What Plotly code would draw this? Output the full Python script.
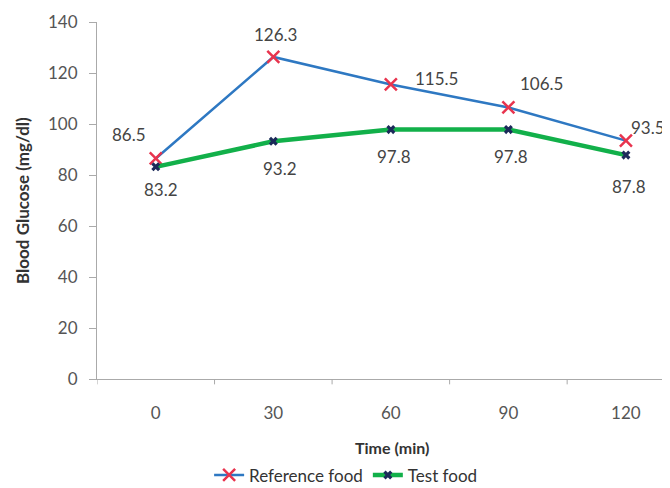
import plotly.graph_objects as go

times = ["0", "30", "60", "90", "120"]
reference_food = [86.5, 126.3, 115.5, 106.5, 93.5]
test_food = [83.2, 93.2, 97.8, 97.8, 87.8]
y_ticks = [0, 20, 40, 60, 80, 100, 120, 140]

xpos = list(range(len(times)))

FONT = "Lato, Open Sans, sans-serif"

fig = go.Figure()
fig.add_trace(go.Scatter(
    x=xpos, y=reference_food, name="Reference food", mode="lines+markers",
    line=dict(color="#2e78c2", width=2.5),
    marker=dict(symbol="x-thin", size=12, color="#e8344e",
                line=dict(color="#e8344e", width=2.5)),
))
fig.add_trace(go.Scatter(
    x=xpos, y=test_food, name="Test food", mode="lines+markers",
    line=dict(color="#12b04a", width=4.5),
    marker=dict(symbol="x", size=8, color="#1c2a5a"),
))

ref_shift = [(-27, 24), (2, 22), (46, 6), (33, 24), (3, 13)]
ref_anchor = ["center", "center", "center", "center", "left"]
test_shift = [(5, -23), (7, -27), (3, -27), (3, -27), (3, -31)]
for i, v in enumerate(reference_food):
    fig.add_annotation(x=xpos[i], y=v, text=f"{v:.1f}", showarrow=False,
                       xanchor=ref_anchor[i],
                       xshift=ref_shift[i][0], yshift=ref_shift[i][1],
                       font=dict(size=17, color="#444444", family=FONT))
for i, v in enumerate(test_food):
    fig.add_annotation(x=xpos[i], y=v, text=f"{v:.1f}", showarrow=False,
                       xshift=test_shift[i][0], yshift=test_shift[i][1],
                       font=dict(size=17, color="#444444", family=FONT))

fig.add_annotation(text="<b>Blood Glucose (mg/dl)</b>", xref="paper", yref="paper",
                   x=-0.129, y=0.499, textangle=-90, showarrow=False,
                   xanchor="center", yanchor="middle",
                   font=dict(size=17, color="#333333", family=FONT))
fig.add_annotation(text="<b>Time (min)</b>", xref="paper", yref="paper",
                   x=0.515, y=-0.193, showarrow=False,
                   xanchor="center", yanchor="middle",
                   font=dict(size=16, color="#333333", family=FONT))

# page body has an 8px default margin, so the figure is 8px smaller
fig.update_layout(
    width=662, height=480,
    margin=dict(l=89, r=0, t=14, b=109, autoexpand=False),
    paper_bgcolor="white", plot_bgcolor="white",
    font=dict(family=FONT, color="#555555", size=17),
    showlegend=True,
    legend=dict(orientation="h", xref="container", yref="paper",
                x=0.51, y=-0.27, xanchor="center", yanchor="middle",
                font=dict(size=17, color="#333333", family=FONT), itemwidth=30,
                tracegroupgap=0, bgcolor="rgba(0,0,0,0)"),
    xaxis=dict(
        range=[-0.5, 4.375], tickmode="array", tickvals=xpos, ticktext=times,
        showgrid=False, zeroline=False, showline=True, linecolor="#aaaaaa",
        ticks="", tickfont=dict(size=17, color="#555555"), ticklabelstandoff=19,
        fixedrange=True,
    ),
    yaxis=dict(
        range=[0, 140], tickvals=y_ticks, showgrid=False, zeroline=False,
        showline=True, linecolor="#aaaaaa", ticks="outside", ticklen=7,
        tickcolor="#aaaaaa", tickfont=dict(size=17, color="#555555"),
        ticklabelstandoff=8,
    ),
)

# category separator ticks on the x axis (between categories)
for b in [-0.5, 0.5, 1.5, 2.5, 3.5]:
    fig.add_shape(type="line", xref="x", yref="paper", x0=b, x1=b, y0=0, y1=-0.015,
                  line=dict(color="#aaaaaa", width=1))

fig.write_html("out.html")
